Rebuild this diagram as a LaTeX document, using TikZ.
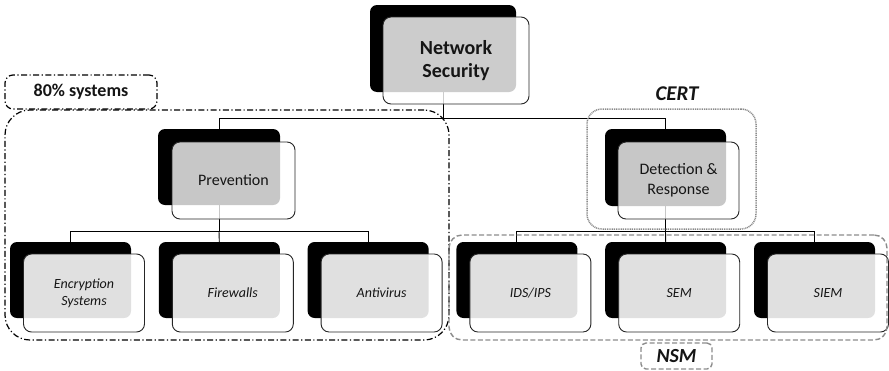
\documentclass[tikz,border=0pt]{standalone}
\usepackage{fontspec}
\setmainfont{Carlito}
\usetikzlibrary{backgrounds}

\definecolor{txt}{HTML}{151515}
\definecolor{grpgray}{HTML}{8C8C8C}
\definecolor{dotgray}{HTML}{8A8A8A}

\tikzset{
  backbox/.style={fill=black, rounded corners=7pt, inner sep=0pt, outer sep=0pt,
    anchor=north west, minimum width=121pt, minimum height=76pt},
  frontbox/.style={draw=black!85, line width=0.9pt, fill=white, fill opacity=0.78,
    text opacity=1, text=txt, rounded corners=8pt, inner sep=0pt, outer sep=0pt,
    anchor=north west, align=center, minimum width=122pt, minimum height=77pt,
    font=\fontsize{16}{19.5}\selectfont},
  leafbox/.style={frontbox, fill opacity=0.88, minimum width=121pt, minimum height=78pt,
    font=\itshape\fontsize{14}{17}\selectfont},
  link/.style={draw=black, line width=0.9pt},
  dashdotgroup/.style={draw=black, line width=1.2pt,
    dash pattern=on 6pt off 2.5pt on 1.2pt off 2.5pt, inner sep=0pt},
  dashedgroup/.style={draw=grpgray, line width=1.4pt, dash pattern=on 5pt off 2.5pt,
    inner sep=0pt},
  dottedgroup/.style={draw=dotgray, line width=1.5pt, dash pattern=on 1pt off 0.8pt,
    rounded corners=15pt, inner sep=0pt},
  grouplabel/.style={font=\bfseries\itshape\fontsize{21}{24}\selectfont, text=txt}
}

\begin{document}
\begin{tikzpicture}[x=1pt, y=-1pt]
\useasboundingbox (0,0) rectangle (889,370);

% root
\node[backbox, minimum width=146pt, minimum height=87pt] (nsB) at (370,5) {};
\node[frontbox, minimum width=146pt, minimum height=87pt, fill opacity=0.8,
  font=\bfseries\fontsize{20}{23}\selectfont] (ns) at (383,17) {Network\\Security};

% second level
\node[backbox, minimum width=122pt] (prevB) at (158,129) {};
\node[frontbox, minimum width=123pt] (prev) at (172,142) {Prevention};
\node[backbox, minimum height=77pt] (detB) at (605,129) {};
\node[frontbox, minimum width=121pt] (det) at (618,142) {Detection \&\\Response};

% leaves
\node[backbox] (encB) at (10,242) {};
\node[leafbox] (enc) at (23.5,254) {Encryption\\Systems};
\node[backbox] (fwB) at (158.8,242) {};
\node[leafbox] (fw) at (172.3,254) {Firewalls};
\node[backbox] (avB) at (307.6,242) {};
\node[leafbox] (av) at (321.1,254) {Antivirus};
\node[backbox] (idsB) at (456.4,242) {};
\node[leafbox] (ids) at (469.9,254) {IDS/IPS};
\node[backbox] (semB) at (605.2,242) {};
\node[leafbox] (sem) at (618.7,254) {SEM};
\node[backbox] (siemB) at (754,242) {};
\node[leafbox] (siem) at (767.5,254) {SIEM};

% bus heights of the tree connectors
\coordinate (busA) at (0,118);
\coordinate (busB) at (0,231);

\begin{pgfonlayer}{background}
  \path[link] (nsB.center) -- (nsB.center |- busA) -| (prevB.north);
  \path[link] (nsB.center |- busA) -| (detB.north);
  \path[link] (prevB.center) -- (prevB.center |- busB) -| (encB.north);
  \path[link] (prevB.center |- busB) -| (avB.north);
  \path[link] (prevB.center |- busB) -- (fwB.north);
  \path[link] (detB.center) -- (detB.center |- busB) -| (idsB.north);
  \path[link] (detB.center |- busB) -| (siemB.north);
  \path[link] (detB.center |- busB) -- (semB.north);
\end{pgfonlayer}

% prevention group
\node[dashdotgroup, rounded corners=25pt, minimum width=444pt, minimum height=230pt]
  (prevgrp) at (227,225) {};
\node[dashdotgroup, rounded corners=8pt, minimum width=152pt, minimum height=34pt,
  text=txt, font=\bfseries\fontsize{18}{21}\selectfont] (sys) at (81,92) {80\% systems};

% CERT group
\node[dottedgroup, minimum width=169pt, minimum height=120pt] (certgrp) at (671.5,169) {};
\node[grouplabel] (cert) at (677,94) {CERT};

% NSM group
\node[dashedgroup, rounded corners=13pt, minimum width=438pt, minimum height=105pt]
  (nsmgrp) at (668,287.5) {};
\node[dashedgroup, rounded corners=5pt, minimum width=71pt, minimum height=26pt,
  grouplabel, font=\bfseries\itshape\fontsize{20}{23}\selectfont] (nsm) at (676.5,356) {NSM};
\end{tikzpicture}
\end{document}
